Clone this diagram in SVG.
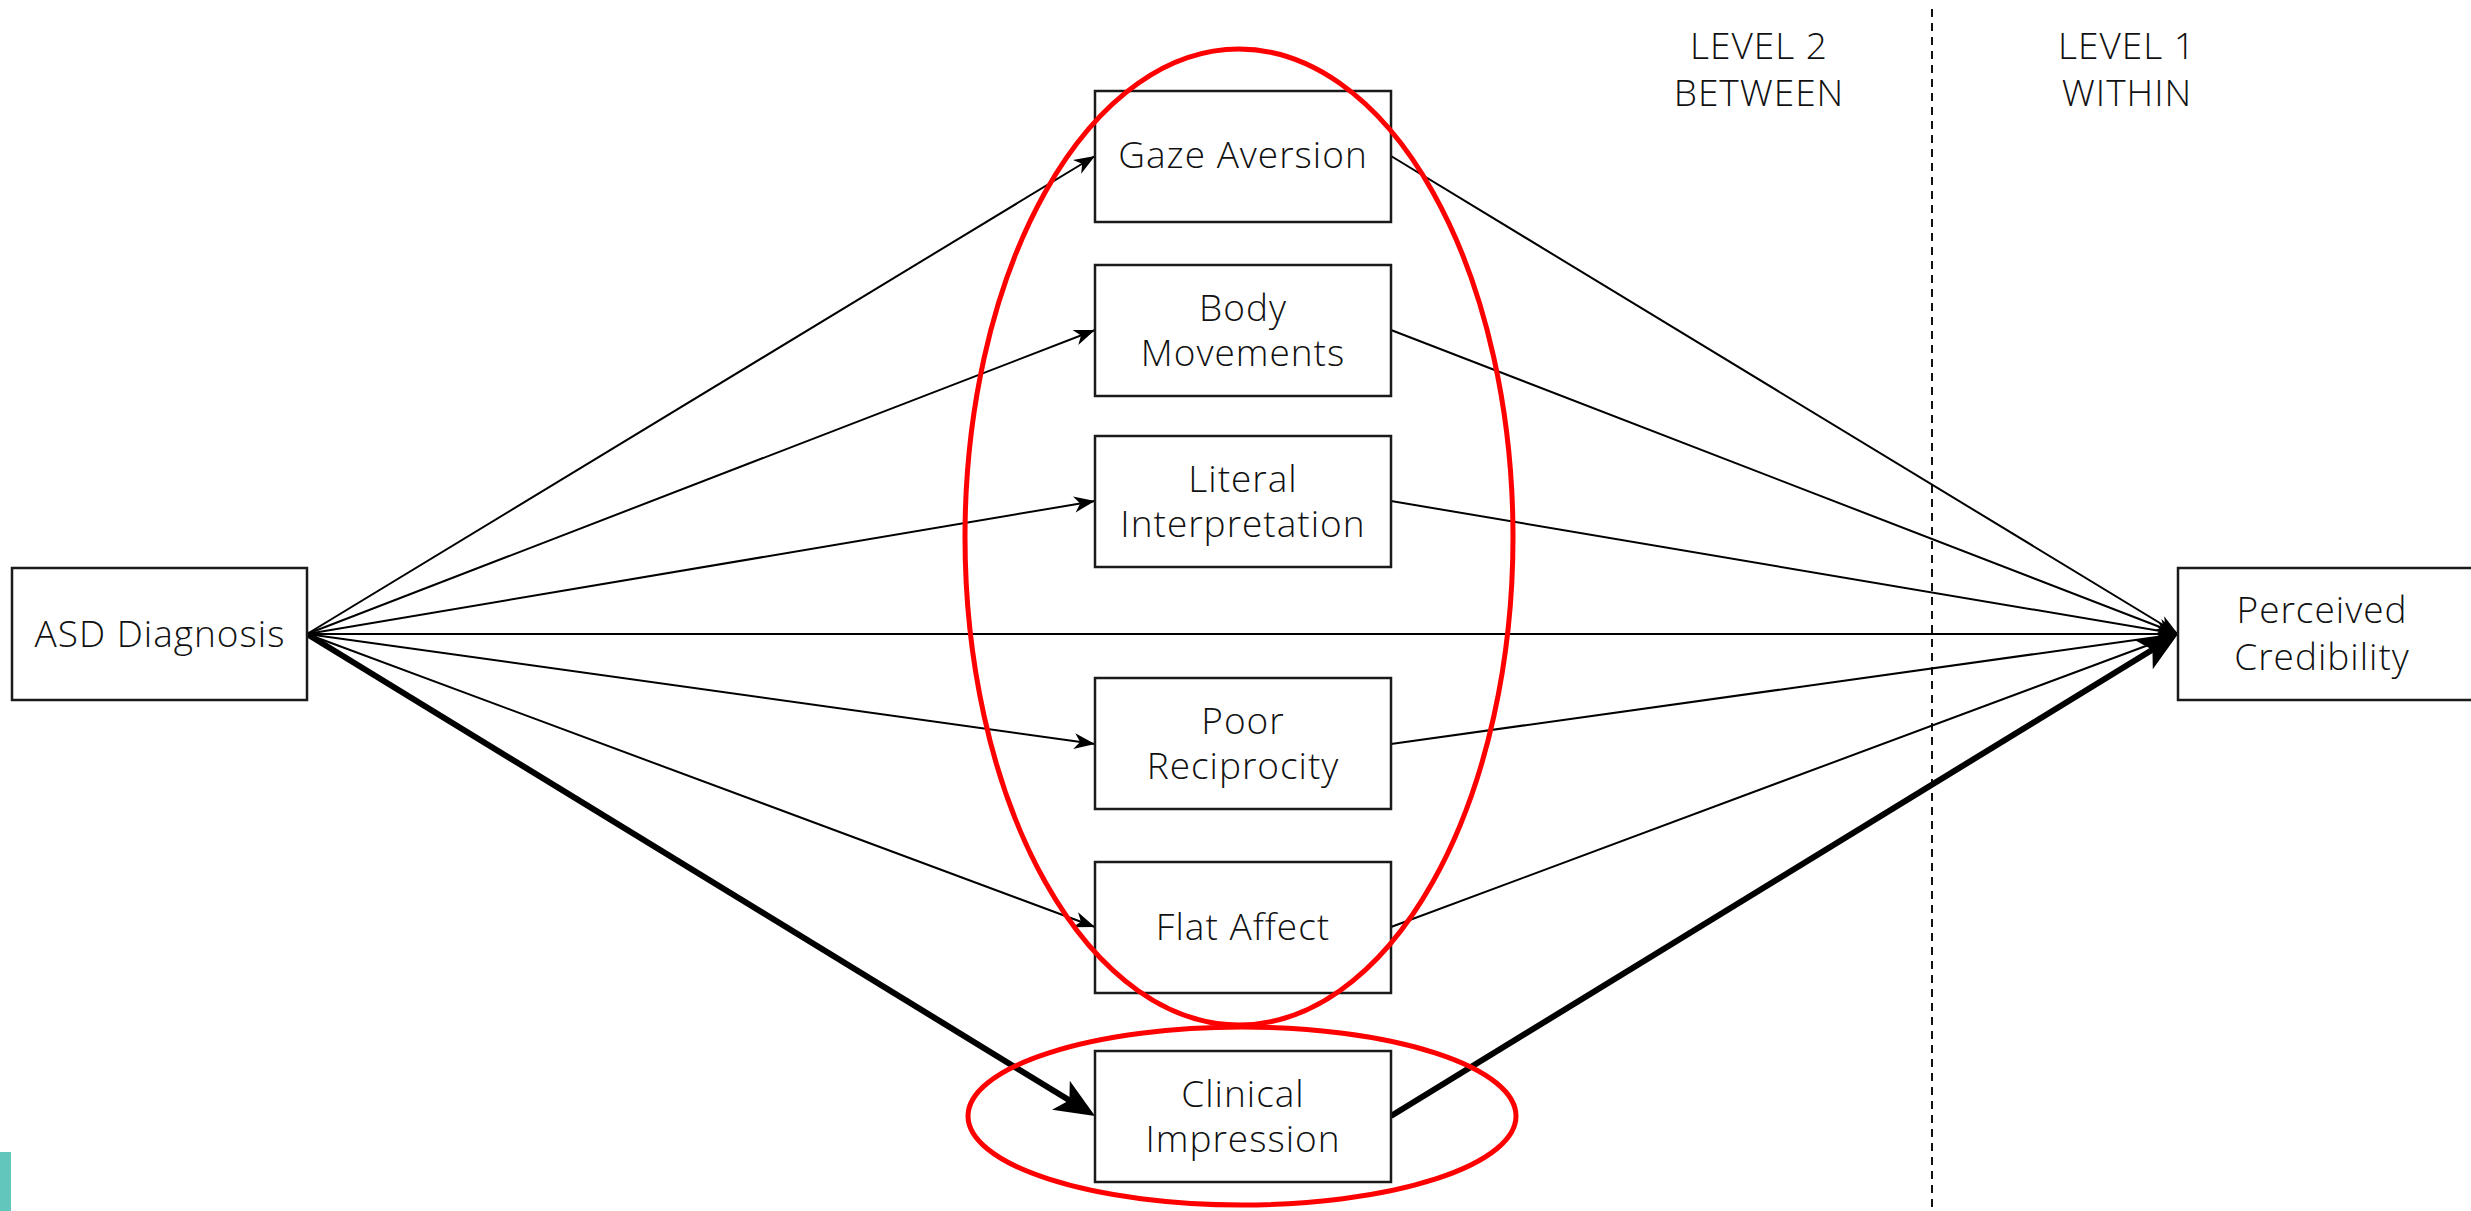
<svg xmlns="http://www.w3.org/2000/svg" width="2471" height="1211" viewBox="0 0 2471 1211">
<style>
.box{fill:#fff;stroke:#1a1a1a;stroke-width:2.5}
.t{font-family:"Open Sans","Noto Sans","DejaVu Sans",sans-serif;font-weight:300;font-size:37px;letter-spacing:1px;fill:#111;text-anchor:middle}
.thin{stroke:#000;stroke-width:2;fill:none}
.thick{stroke:#000;stroke-width:6;fill:none}
.oval{fill:none;stroke:#ff0000;stroke-width:5}
</style>
<defs>
<marker id="ah" markerUnits="userSpaceOnUse" orient="auto" markerWidth="40" markerHeight="40" refX="0" refY="0" overflow="visible">
<path d="M0,0 L-21,-8 L-15,0 L-21,8 Z" fill="#000"/>
</marker>
<marker id="ahb" markerUnits="userSpaceOnUse" orient="auto" markerWidth="80" markerHeight="80" refX="0" refY="0" overflow="visible">
<path d="M10,0 L-30,-17 L-20,0 L-30,17 Z" fill="#000"/>
</marker>
</defs>
<rect width="2471" height="1211" fill="#fff"/>
<rect x="0" y="1152" width="11" height="59" fill="#62c6bd"/>

<line x1="1932" y1="9" x2="1932" y2="1211" stroke="#111" stroke-width="2" stroke-dasharray="8,6"/>
<text class="t" x="1759" y="59">LEVEL 2</text>
<text class="t" x="1759" y="106">BETWEEN</text>
<text class="t" x="2127" y="59">LEVEL 1</text>
<text class="t" x="2127" y="106">WITHIN</text>

<g id="connectors">
<line class="thin" x1="307" y1="634" x2="1095" y2="156" marker-end="url(#ah)"/>
<line class="thin" x1="307" y1="634" x2="1095" y2="330" marker-end="url(#ah)"/>
<line class="thin" x1="307" y1="634" x2="1095" y2="501" marker-end="url(#ah)"/>
<line class="thin" x1="307" y1="634" x2="1095" y2="744" marker-end="url(#ah)"/>
<line class="thin" x1="307" y1="634" x2="1095" y2="927" marker-end="url(#ah)"/>
<line class="thin" x1="307" y1="634" x2="2178" y2="634" marker-end="url(#ah)"/>
<line class="thin" x1="1391" y1="156" x2="2178" y2="634" marker-end="url(#ah)"/>
<line class="thin" x1="1391" y1="330" x2="2178" y2="634" marker-end="url(#ah)"/>
<line class="thin" x1="1391" y1="501" x2="2178" y2="634" marker-end="url(#ah)"/>
<line class="thin" x1="1391" y1="744" x2="2178" y2="634" marker-end="url(#ah)"/>
<line class="thin" x1="1391" y1="927" x2="2178" y2="634" marker-end="url(#ah)"/>
<line class="thick" x1="307" y1="634" x2="1086.5" y2="1110.8" marker-end="url(#ahb)"/>
<line class="thick" x1="1391" y1="1116" x2="2169.5" y2="639.2" marker-end="url(#ahb)"/>
</g>

<g id="asd"><rect class="box" x="12" y="568" width="295" height="132"/><text class="t" x="160" y="647">ASD Diagnosis</text></g>
<g id="gaze"><rect class="box" x="1095" y="91" width="296" height="131"/><text class="t" x="1243" y="168">Gaze Aversion</text></g>
<g id="body"><rect class="box" x="1095" y="265" width="296" height="131"/><text class="t" x="1243" y="321">Body</text><text class="t" x="1243" y="366">Movements</text></g>
<g id="literal"><rect class="box" x="1095" y="436" width="296" height="131"/><text class="t" x="1243" y="492">Literal</text><text class="t" x="1243" y="537">Interpretation</text></g>
<g id="poor"><rect class="box" x="1095" y="678" width="296" height="131"/><text class="t" x="1243" y="734">Poor</text><text class="t" x="1243" y="779">Reciprocity</text></g>
<g id="flat"><rect class="box" x="1095" y="862" width="296" height="131"/><text class="t" x="1243" y="940">Flat Affect</text></g>
<g id="clinical"><rect class="box" x="1095" y="1051" width="296" height="131"/><text class="t" x="1243" y="1107">Clinical</text><text class="t" x="1243" y="1152">Impression</text></g>
<g id="perceived"><rect class="box" x="2178" y="568" width="300" height="132"/><text class="t" x="2322" y="623">Perceived</text><text class="t" x="2322" y="670">Credibility</text></g>

<g id="highlights">
<ellipse class="oval" cx="1239" cy="537" rx="274" ry="488"/>
<ellipse class="oval" cx="1242" cy="1116" rx="274" ry="89"/>
</g>
</svg>
